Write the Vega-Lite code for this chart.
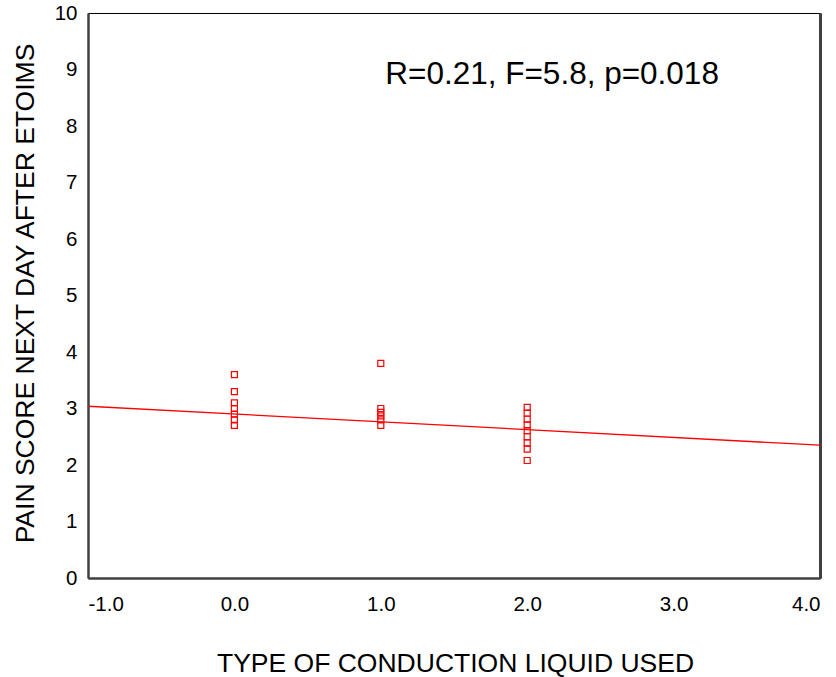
{
  "$schema": "https://vega.github.io/schema/vega-lite/v6.json",
  "autosize": {"type": "none"},
  "padding": {"left": 88, "top": 13, "right": 16, "bottom": 99},
  "width": 732,
  "height": 565,
  "background": "white",
  "config": {
    "view": {"stroke": "#000000", "strokeWidth": 1},
    "font": "Liberation Sans",
    "axis": {"grid": false, "ticks": false, "domainColor": "#404040", "domainWidth": 2.5, "labelFont": "Liberation Sans", "titleFont": "Liberation Sans", "labelColor": "#000", "titleColor": "#000", "titleFontWeight": "normal", "labelFontSize": 20.5, "titleFontSize": 26.5}
  },
  "datasets": {
    "points": [
      {"liquid": 0, "pain": 3.6}, {"liquid": 0, "pain": 3.3}, {"liquid": 0, "pain": 3.1}, {"liquid": 0, "pain": 3.0}, {"liquid": 0, "pain": 2.9}, {"liquid": 0, "pain": 2.8}, {"liquid": 0, "pain": 2.7},
      {"liquid": 1, "pain": 3.8}, {"liquid": 1, "pain": 3.0}, {"liquid": 1, "pain": 2.93}, {"liquid": 1, "pain": 2.87}, {"liquid": 1, "pain": 2.8}, {"liquid": 1, "pain": 2.7},
      {"liquid": 2, "pain": 3.02}, {"liquid": 2, "pain": 2.92}, {"liquid": 2, "pain": 2.81}, {"liquid": 2, "pain": 2.71}, {"liquid": 2, "pain": 2.61}, {"liquid": 2, "pain": 2.5}, {"liquid": 2, "pain": 2.39}, {"liquid": 2, "pain": 2.28}, {"liquid": 2, "pain": 2.08}
    ],
    "fit": [{"liquid": -1, "pain": 3.04}, {"liquid": 4, "pain": 2.35}],
    "note": [{"liquid": 2.17, "pain": 8.9, "label": "R=0.21, F=5.8, p=0.018"}]
  },
  "layer": [
    {
      "data": {"name": "points"},
      "mark": {"type": "point", "shape": "square", "filled": false, "color": "#ff0000", "size": 36, "strokeWidth": 1.2, "opacity": 1},
      "encoding": {
        "x": {"field": "liquid", "type": "quantitative", "scale": {"domain": [-1, 4], "nice": false, "zero": false}, "axis": {"values": [-1, 0, 1, 2, 3, 4], "format": ".1f", "labelExpr": "replace(datum.label, '\u2212', '-')", "labelPadding": 16, "title": "TYPE OF CONDUCTION LIQUID USED", "titleX": 367, "titleY": 85, "titleBaseline": "middle"}},
        "y": {"field": "pain", "type": "quantitative", "scale": {"domain": [0, 10], "nice": false}, "axis": {"values": [0, 1, 2, 3, 4, 5, 6, 7, 8, 9, 10], "labelPadding": 11, "title": "PAIN SCORE NEXT DAY AFTER ETOIMS", "titleX": -63, "titleY": 280, "titleBaseline": "middle"}}
      }
    },
    {
      "data": {"name": "fit"},
      "mark": {"type": "line", "color": "#ff0000", "strokeWidth": 1.3},
      "encoding": {
        "x": {"field": "liquid", "type": "quantitative"},
        "y": {"field": "pain", "type": "quantitative", "axis": {"orient": "right", "labels": false, "title": null, "domainColor": "#404040", "domainWidth": 3}}
      }
    },
    {
      "data": {"name": "note"},
      "mark": {"type": "text", "fontSize": 31.5, "align": "center", "baseline": "middle", "color": "#000", "font": "Liberation Sans"},
      "encoding": {
        "x": {"field": "liquid", "type": "quantitative"},
        "y": {"field": "pain", "type": "quantitative", "axis": {"orient": "right", "labels": false, "title": null, "domainColor": "#404040", "domainWidth": 3}},
        "text": {"field": "label"}
      }
    }
  ],
  "resolve": {"axis": {"y": "independent"}}
}
